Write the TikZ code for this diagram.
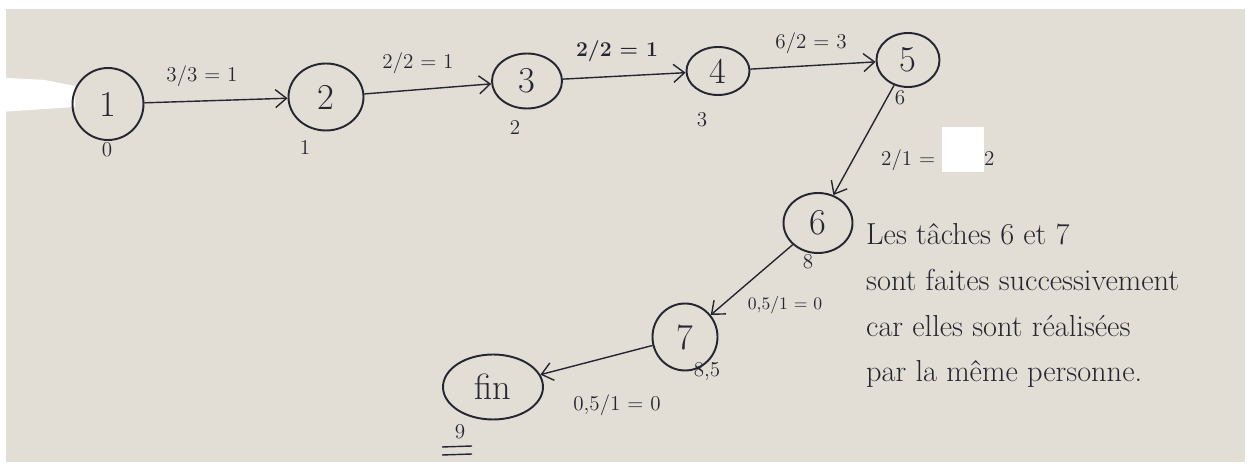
\documentclass[tikz,border=0pt]{standalone}
\usetikzlibrary{arrows.meta, positioning, shapes.geometric}
\definecolor{ink}{RGB}{38,38,48}
\definecolor{paper}{RGB}{226,222,214}

\begin{document}
\begin{tikzpicture}[event/.style={ellipse, draw=ink, line width=1.1pt, inner sep=0pt, text=ink, font=\huge}, arrow/.style={-{Straight Barb[length=2.2mm, width=3.6mm]}, draw=ink, line width=.8pt}, dur/.style={text=ink, font=\large}, date/.style={text=ink, font=\large}, note/.style={text=ink, font=\LARGE, align=left, anchor=north west}]
\useasboundingbox (0,0) rectangle (25.02,-9.42);
\fill[white] (0,0) rectangle (25.02,-9.42);
\fill[paper] (0.12,-0.18) rectangle (24.9,-9.24);
\fill[white] (0,-1.55) -- (0.9,-1.6) -- (1.5,-1.72) -- (1.5,-2.14) -- (0.6,-2.2) -- (0,-2.24) -- cycle;
\node[event, minimum width=1.42cm, minimum height=1.44cm] (n1) at (2.16,-2.08) {1};
\node[event, minimum width=1.5cm, minimum height=1.34cm] (n2) at (6.52,-1.94) {2};
\node[event, minimum width=1.4cm, minimum height=1.1cm] (n3) at (10.54,-1.62) {3};
\node[event, minimum width=1.26cm, minimum height=.96cm] (n4) at (14.36,-1.42) {4};
\node[event, minimum width=1.26cm, minimum height=1.08cm] (n5) at (18.16,-1.2) {5};
\node[event, minimum width=1.38cm, minimum height=1.2cm] (n6) at (16.36,-4.46) {6};
\node[event, minimum width=1.3cm, minimum height=1.34cm] (n7) at (13.7,-6.74) {7};
\node[event, minimum width=2cm, minimum height=1.3cm] (fin) at (9.86,-7.74) {fin};
\node[date] (d1) at (2.14,-3.0) {0};
\node[date] (d2) at (6.1,-2.94) {1};
\node[date] (d3) at (10.3,-2.54) {2};
\node[date] (d4) at (14.04,-2.4) {3};
\node[date] (d5) at (18.0,-1.96) {6};
\node[date] (d6) at (16.16,-5.24) {8};
\node[date] (d7) at (14.14,-7.44) {8,5};
\node[date] (d8) at (9.2,-8.64) {9};
\draw[ink, line width=.8pt] (8.84,-8.94) -- (9.44,-8.92) (8.84,-9.1) -- (9.44,-9.08);
\node[dur] (l12) at (4.04,-1.52) {3/3 = 1};
\node[dur] (l23) at (8.36,-1.26) {2/2 = 1};
\node[dur, font=\large\bfseries] (l34) at (12.34,-1.02) {2/2 = 1};
\node[dur] (l45) at (16.22,-0.86) {6/2 = 3};
\node[dur, anchor=west] (l56) at (17.5,-3.0) {2/1 = \textcolor{white}{\rule[-.8ex]{.84cm}{.9cm}}2};
\node[dur, font=\normalsize] (l67) at (15.7,-6.1) {0,5/1 = 0};
\node[dur] (l7f) at (12.34,-8.1) {0,5/1 = 0};
\node[note] (remark) at (17.2,-4.35) {Les tâches 6 et 7\\[.14cm] sont faites successivement\\[.14cm] car elles sont réalisées\\[.14cm] par la même personne.};
\draw[arrow] (n1) -- (n2);
\draw[arrow] (n2) -- (n3);
\draw[arrow] (n3) -- (n4);
\draw[arrow] (n4) -- (n5);
\draw[arrow] (n5) -- (n6);
\draw[arrow] (n6) -- (n7);
\draw[arrow] (n7) -- (fin);
\end{tikzpicture}
\end{document}
